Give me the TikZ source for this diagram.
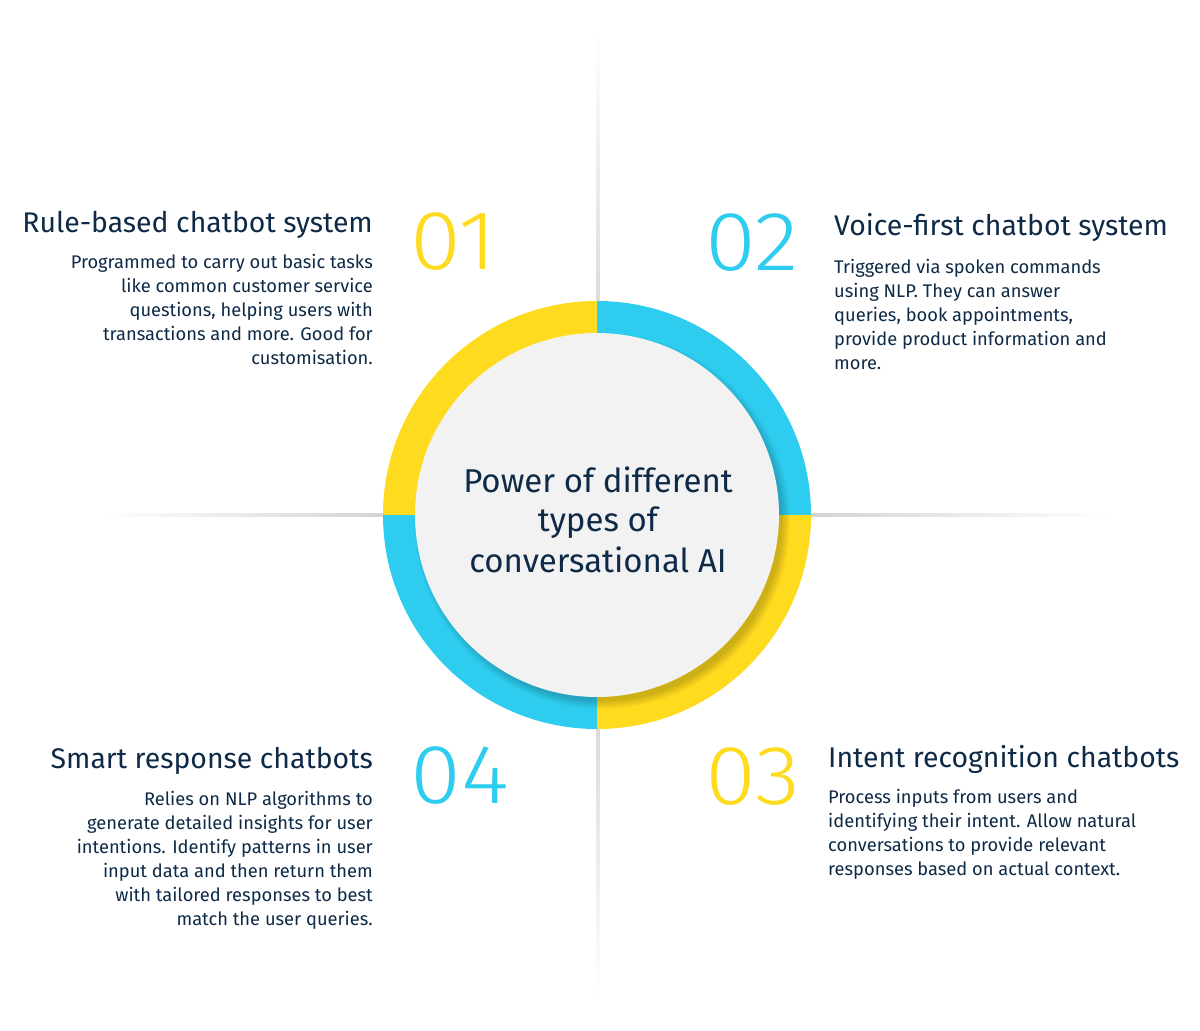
\documentclass[tikz,border=0pt]{standalone}
\usepackage{fontspec}
\setmainfont{Fira Sans}
\newfontfamily\numfont{Fira Sans Light}
\definecolor{ylw}{HTML}{FFDB1F}
\definecolor{blu}{HTML}{2ECDF0}
\definecolor{navy}{HTML}{0E2A47}
\definecolor{inner}{HTML}{F2F2F2}
\begin{document}
\begin{tikzpicture}[x=1pt,y=1pt,
  title/.style={font=\fontsize{28.4}{34}\selectfont, text=navy, inner sep=0pt},
  body/.style={font=\fontsize{18.3}{24}\selectfont, text=navy, inner sep=0pt},
  num/.style={font=\numfont\fontsize{84}{84}\selectfont, inner sep=0pt, xscale=1.1},
  centre/.style={font=\fontsize{33}{40}\selectfont, text=navy, inner sep=0pt}]
\useasboundingbox[fill=white] (0,0) rectangle (1200,-1031);
% guide lines
\shade[top color=white, bottom color=black!14] (596.5,-30) rectangle (599.5,-305);
\shade[top color=black!14, bottom color=white] (596.5,-725) rectangle (599.5,-1000);
\shade[left color=white, right color=black!17] (100,-513.5) rectangle (385,-516.5);
\shade[left color=black!17, right color=white] (810,-513.5) rectangle (1110,-516.5);
% ring
\coordinate (c) at (597,-515);
\fill[blu] (c) -- ++(0:214) arc (0:90:214) -- cycle;
\fill[ylw] (c) -- ++(90:214) arc (90:180:214) -- cycle;
\fill[blu] (c) -- ++(180:214) arc (180:270:214) -- cycle;
\fill[ylw] (c) -- ++(270:214) arc (270:360:214) -- cycle;
% soft shadow of inner disc
\begin{scope}
\clip (c) circle (214);
\foreach \k in {1,...,10}{
  \fill[black, opacity=0.018] ([shift={(5,-6)}]c) circle (179+\k*0.9);
}
\end{scope}
\node[circle, fill=inner, minimum size=364pt, inner sep=0pt] (core) at (c) {};
% centre text
\node[centre, anchor=base] (c1) at (598,-492) {Power of different};
\node[centre, anchor=base] (c2) at (598,-531) {types of};
\node[centre, anchor=base] (c3) at (598,-572) {conversational AI};
% numbers
\node[num, text=ylw, anchor=base west] (n1) at (410,-269) {01};
\node[num, text=blu, anchor=base west] (n2) at (705,-270) {02};
\node[num, text=ylw, anchor=base west] (n3) at (705,-804) {03};
\node[num, text=blu, anchor=base west] (n4) at (410,-803) {04};
% block 1
\node[title, anchor=base east] (t1) at (373,-232) {Rule-based chatbot system};
\foreach \t [count=\i] in {{Programmed to carry out basic tasks},{like common customer service},{questions, helping users with},{transactions and more. Good for},{customisation.}}
  \node[body, anchor=base east] (b1-\i) at (373,-268-24*\i+24) {\t};
% block 2
\node[title, anchor=base west] (t2) at (834,-235) {Voice-first chatbot system};
\foreach \t [count=\i] in {{Triggered via spoken commands},{using NLP. They can answer},{queries, book appointments,},{provide product information and},{more.}}
  \node[body, anchor=base west] (b2-\i) at (834,-273-24*\i+24) {\t};
% block 3
\node[title, anchor=base west] (t3) at (828,-767) {Intent recognition chatbots};
\foreach \t [count=\i] in {{Process inputs from users and},{identifying their intent. Allow natural},{conversations to provide relevant},{responses based on actual context.}}
  \node[body, anchor=base west] (b3-\i) at (828,-803-24*\i+24) {\t};
% block 4
\node[title, anchor=base east] (t4) at (373,-768) {Smart response chatbots};
\foreach \t [count=\i] in {{Relies on NLP algorithms to},{generate detailed insights for user},{intentions. Identify patterns in user},{input data and then return them},{with tailored responses to best},{match the user queries.}}
  \node[body, anchor=base east] (b4-\i) at (373,-805-24*\i+24) {\t};
\end{tikzpicture}
\end{document}
